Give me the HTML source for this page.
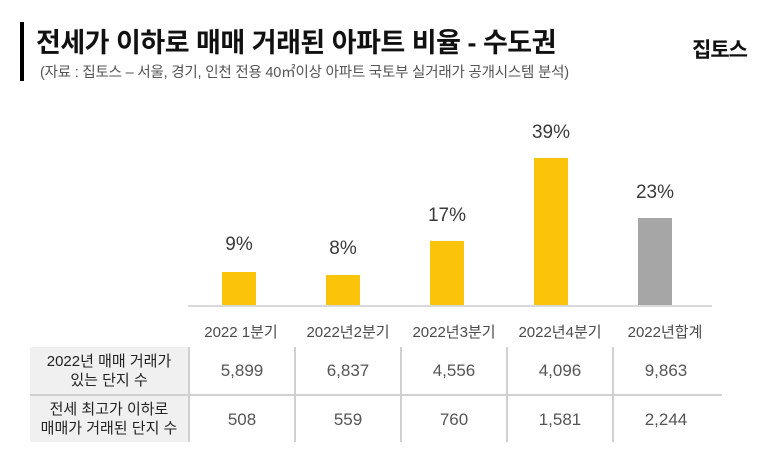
<!DOCTYPE html>
<html><head><meta charset="utf-8"><style>
body{margin:0;width:778px;height:473px;background:#fff;position:relative;overflow:hidden;font-family:"Liberation Sans","Noto Sans CJK KR",sans-serif;}
.a{position:absolute;}
.bar{position:absolute;width:34px;background:#fcc30b;}
.pl{position:absolute;width:80px;text-align:center;font-size:19px;color:#3a3a3a;}
.cat{position:absolute;top:321px;width:106px;text-align:center;font-size:15px;color:#4a4a4a;white-space:nowrap;}
.num{position:absolute;width:106px;text-align:center;font-size:17px;color:#555;}
.vl{position:absolute;top:347px;height:95px;width:2px;background:#d0d0d0;}
.hd{position:absolute;left:30px;width:158px;text-align:center;font-size:15px;color:#222;line-height:19px;}
</style></head><body>
<div class="a" style="left:20px;top:22px;width:4px;height:59px;background:#000"></div>
<div class="a" style="left:36px;top:21px;font-size:27px;font-weight:bold;color:#111;white-space:nowrap;letter-spacing:-0.5px">전세가 이하로 매매 거래된 아파트 비율 - 수도권</div>
<div class="a" style="left:40px;top:61px;font-size:14.5px;color:#555;white-space:nowrap;letter-spacing:-0.2px">(자료 : 집토스 – 서울, 경기, 인천 전용 40㎡이상 아파트 국토부 실거래가 공개시스템 분석)</div>
<div class="a" style="left:692px;top:34px;font-size:21px;font-weight:bold;color:#111;letter-spacing:-1px">집토스</div>

<div class="bar" style="left:222px;top:272px;height:34px"></div>
<div class="bar" style="left:326px;top:275px;height:31px"></div>
<div class="bar" style="left:430px;top:241px;height:65px"></div>
<div class="bar" style="left:534px;top:158px;height:148px"></div>
<div class="bar" style="left:638px;top:218px;height:88px;background:#a6a6a6"></div>
<div class="a" style="left:188px;top:305px;width:524px;height:2px;background:#d9d9d9"></div>
<div class="pl" style="left:199px;top:234px">9%</div>
<div class="pl" style="left:303px;top:238px">8%</div>
<div class="pl" style="left:407px;top:205px">17%</div>
<div class="pl" style="left:511px;top:122px">39%</div>
<div class="pl" style="left:615px;top:182px">23%</div>

<div class="cat" style="left:188px">2022 1분기</div>
<div class="cat" style="left:295px">2022년2분기</div>
<div class="cat" style="left:401px">2022년3분기</div>
<div class="cat" style="left:507px">2022년4분기</div>
<div class="cat" style="left:612px">2022년합계</div>

<div class="a" style="left:30px;top:347px;width:158px;height:95px;background:#f0f0f0"></div>
<div class="a" style="left:30px;top:394px;width:692px;height:2px;background:#d0d0d0"></div>
<div class="vl" style="left:188px"></div>
<div class="vl" style="left:294px"></div>
<div class="vl" style="left:400px"></div>
<div class="vl" style="left:506px"></div>
<div class="vl" style="left:612px"></div>
<div class="hd" style="top:352px">2022년 매매 거래가<br>있는 단지 수</div>
<div class="hd" style="top:400px">전세 최고가 이하로<br>매매가 거래된 단지 수</div>

<div class="num" style="left:189px;top:361px">5,899</div>
<div class="num" style="left:295px;top:361px">6,837</div>
<div class="num" style="left:401px;top:361px">4,556</div>
<div class="num" style="left:507px;top:361px">4,096</div>
<div class="num" style="left:613px;top:361px">9,863</div>
<div class="num" style="left:189px;top:410px">508</div>
<div class="num" style="left:295px;top:410px">559</div>
<div class="num" style="left:401px;top:410px">760</div>
<div class="num" style="left:507px;top:410px">1,581</div>
<div class="num" style="left:613px;top:410px">2,244</div>
</body></html>
